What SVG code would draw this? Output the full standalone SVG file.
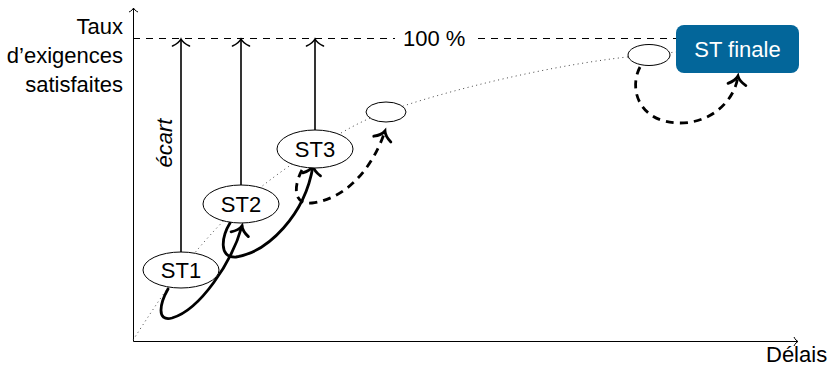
<svg xmlns="http://www.w3.org/2000/svg" width="832" height="370" viewBox="0 0 832 370">
<style>
text{font-family:"Liberation Sans","DejaVu Sans",sans-serif;font-size:22px;fill:#000}
.node ellipse{fill:#fff;stroke:#000;stroke-width:1}
.thick{fill:none;stroke:#000;stroke-width:2.8;stroke-linecap:round}
.dash{stroke-dasharray:8 6;stroke-linecap:butt}
.vert{fill:none;stroke:#000;stroke-width:1.6}
.axis{fill:none;stroke:#000;stroke-width:1}
</style>
<defs>
<marker id="ah" markerUnits="userSpaceOnUse" markerWidth="30" markerHeight="30" viewBox="-15 -15 30 30" refX="0" refY="0" orient="auto" overflow="visible">
<path d="M-8.5,-9 C-6,-4 -2.5,-1 0,0 C-2.5,1 -6,4 -8.5,9" fill="none" stroke="#000" stroke-width="2.8" stroke-linecap="round"/>
</marker>
<marker id="av" markerUnits="userSpaceOnUse" markerWidth="30" markerHeight="30" viewBox="-15 -15 30 30" refX="0" refY="0" orient="auto" overflow="visible">
<path d="M-7,-8.5 C-5,-4 -2,-1 0,0 C-2,1 -5,4 -7,8.5" fill="none" stroke="#000" stroke-width="1.6" stroke-linecap="round"/>
</marker>
<marker id="ax" markerUnits="userSpaceOnUse" markerWidth="20" markerHeight="20" viewBox="-10 -10 20 20" refX="0" refY="0" orient="auto" overflow="visible">
<path d="M-4,-4.5 C-3,-2 -1,-0.5 0,0 C-1,0.5 -3,2 -4,4.5" fill="none" stroke="#000" stroke-width="1"/>
</marker>
</defs>

<g id="axes">
<line class="axis" x1="133.5" y1="341.5" x2="133.5" y2="8" marker-end="url(#ax)"/>
<line class="axis" x1="133.5" y1="341.5" x2="798" y2="341.5" marker-end="url(#ax)"/>
<text x="123" y="34" text-anchor="end">Taux</text>
<text x="123" y="63" text-anchor="end">d’exigences</text>
<text x="123" y="92" text-anchor="end">satisfaites</text>
<text x="766" y="362">Délais</text>
</g>

<g id="target">
<line x1="133" y1="38.5" x2="395" y2="38.5" stroke="#000" stroke-width="1" stroke-dasharray="7 6"/>
<line x1="478" y1="38.5" x2="676" y2="38.5" stroke="#000" stroke-width="1" stroke-dasharray="7 6"/>
<text x="403" y="46">100 %</text>
</g>

<g id="trend">
<path d="M133,340 C141,328 163,293 181,270 C199,247 219,224 241,204 C263,184 291,164 315,149 C340,133 362,120 386,112 C440,92 560,62 648,55 L676,52" fill="none" stroke="#444" stroke-width="1" stroke-dasharray="1 3.5"/>
</g>

<g id="connectors">
<line class="vert" x1="181" y1="252" x2="181" y2="39" marker-end="url(#av)"/>
<line class="vert" x1="241" y1="185" x2="241" y2="39" marker-end="url(#av)"/>
<line class="vert" x1="315" y1="130" x2="315" y2="39" marker-end="url(#av)"/>
<path class="thick" d="M168,289 C160,303 156,322 172,318 C200,310 232,262 242,226" marker-end="url(#ah)"/>
<path class="thick" d="M230,223 C222,236 218,258 236,257 C268,252 305,215 313,166" marker-end="url(#ah)"/>
<path class="thick dash" d="M302,170 C294,185 292,205 312,203 C345,199 372,170 385,131" marker-end="url(#ah)"/>
<path class="thick dash" d="M640,67 C628,90 640,123 680,123 C712,123 735,100 738,76" marker-end="url(#ah)"/>
<text transform="translate(172,143) rotate(-90)" text-anchor="middle" font-style="italic">écart</text>
</g>

<g id="st1" class="node">
<ellipse cx="181" cy="270" rx="38" ry="18"/>
<text x="181" y="278" text-anchor="middle">ST1</text>
</g>
<g id="st2" class="node">
<ellipse cx="241" cy="204" rx="38" ry="19"/>
<text x="241" y="212" text-anchor="middle">ST2</text>
</g>
<g id="st3" class="node">
<ellipse cx="315" cy="149" rx="38" ry="19"/>
<text x="315" y="157" text-anchor="middle">ST3</text>
</g>
<g id="st4" class="node">
<ellipse cx="386" cy="112" rx="20" ry="10"/>
</g>
<g id="st5" class="node">
<ellipse cx="649" cy="55" rx="21" ry="10.5"/>
</g>
<g id="stfinale">
<rect x="676" y="25" width="123" height="48" rx="8" fill="#03669a"/>
<text x="737.5" y="57" text-anchor="middle" style="fill:#fff" font-size="23">ST finale</text>
</g>
</svg>
